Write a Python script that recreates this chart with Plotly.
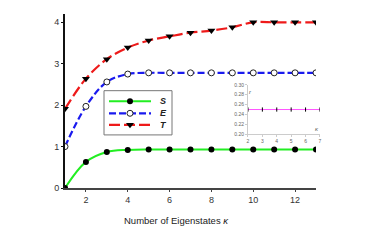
import plotly.graph_objects as go

k = list(range(1, 14))
S_vals = [0.0, 0.63, 0.87, 0.92, 0.93, 0.93, 0.93, 0.93, 0.93, 0.93, 0.93, 0.93, 0.93]
E_vals = [1.0, 1.97, 2.56, 2.75, 2.78, 2.78, 2.78, 2.78, 2.78, 2.78, 2.78, 2.78, 2.78]
T_vals = [1.91, 2.64, 3.11, 3.39, 3.56, 3.66, 3.75, 3.80, 3.88, 4.0, 4.0, 4.0, 4.0]
inset_k = [2, 3, 4, 5, 6, 7]
inset_r = [0.25, 0.25, 0.25, 0.25, 0.25, 0.25]
series_names = ["S", "E", "T"]
x_title = "Number of Eigenstates <i>κ</i>"

font = "Liberation Sans, Arial, sans-serif"
W, H = 372, 250
ML, MR, MT, MB = 65, 50, 11, 62

styles = {
    "S": dict(line=dict(color="#22ee22", width=2),
              marker=dict(symbol="circle", size=6, color="black")),
    "E": dict(line=dict(color="#1a1aee", width=2.2, dash="7px,3px"),
              marker=dict(symbol="circle", size=6, color="white", line=dict(color="#222", width=1))),
    "T": dict(line=dict(color="#ee1a1a", width=2.2, dash="11px,4px"),
              marker=dict(symbol="triangle-down", size=7, color="black")),
}
data = {"S": S_vals, "E": E_vals, "T": T_vals}

fig = go.Figure()
for n in series_names:
    st = styles[n]
    fig.add_trace(go.Scatter(x=k, y=data[n], name=n, mode="lines+markers", showlegend=False,
                             line=dict(shape="spline", **st["line"]), marker=st["marker"]))
fig.add_trace(go.Scatter(x=inset_k, y=inset_r, xaxis="x2", yaxis="y2", mode="lines+markers",
                         showlegend=False,
                         line=dict(color="#ff55ff", width=1),
                         marker=dict(symbol="line-ns", size=3, color="black",
                                     line=dict(color="black", width=1))))

# Hand-drawn legend box on a pixel-unit overlay axis
fig.add_trace(go.Scatter(x=[104, 172, 172, 104, 104], y=[89, 89, 134, 134, 89],
                         xaxis="x3", yaxis="y3", mode="lines", fill="toself", fillcolor="white",
                         line=dict(color="#777", width=1), showlegend=False, hoverinfo="skip"))
annotations = []
rows = [99.7, 112, 123.7]
for n, ry in zip(series_names, rows):
    st = styles[n]
    fig.add_trace(go.Scatter(x=[109, 151], y=[ry, ry], xaxis="x3", yaxis="y3", mode="lines",
                             showlegend=False, hoverinfo="skip", line=st["line"]))
    fig.add_trace(go.Scatter(x=[130], y=[ry], xaxis="x3", yaxis="y3", mode="markers",
                             showlegend=False, hoverinfo="skip", marker=st["marker"]))
    annotations.append(dict(text=f"<b><i>{n}</i></b>", x=163, y=ry, xref="x3", yref="y3",
                            showarrow=False, font=dict(size=9, color="#222")))

annotations += [
    dict(text="<i>r</i>", x=2.2, y=0.285, xref="x2", yref="y2", showarrow=False,
         font=dict(size=6, color="#555")),
    dict(text="<i>κ</i>", x=6.8, y=0.21, xref="x2", yref="y2", showarrow=False,
         font=dict(size=6, color="#555")),
    dict(text=x_title, x=(176.5 - ML) / (W - ML - MR), y=(H - MB - 221) / (H - MT - MB),
         xref="paper", yref="paper", xanchor="center", yanchor="middle", showarrow=False,
         font=dict(size=9.5, color="#222")),
]

fig.update_layout(
    width=W, height=H,
    margin=dict(l=ML, r=MR, t=MT, b=MB),
    paper_bgcolor="white", plot_bgcolor="rgba(0,0,0,0)",
    font=dict(family=font, size=9, color="#333"),
    showlegend=False,
    xaxis=dict(domain=[0, 251 / 257], range=[1, 13], tickvals=[2, 4, 6, 8, 10, 12],
               showgrid=False, zeroline=False, showline=True, linecolor="#444", linewidth=2,
               ticks="outside", ticklen=2, tickcolor="#444"),
    yaxis=dict(domain=[0, 1], range=[0, 4.2], tickvals=[0, 1, 2, 3, 4],
               showgrid=False, zeroline=False, showline=True, linecolor="#111", linewidth=2,
               ticks="outside", ticklen=2, tickcolor="#111"),
    xaxis2=dict(domain=[0.712, 0.992], range=[2, 7], anchor="y2", tickvals=[2, 3, 4, 5, 6, 7],
                showgrid=False, zeroline=False, showline=True, linecolor="#ccc", linewidth=1,
                ticks="outside", ticklen=2, tickcolor="#ccc",
                tickfont=dict(size=5, color="#666")),
    yaxis2=dict(domain=[0.309, 0.593], range=[0.2, 0.3], anchor="x2",
                tickvals=[0.20, 0.22, 0.24, 0.26, 0.28, 0.30], tickformat=".2f",
                showgrid=False, zeroline=False, showline=True, linecolor="#ccc", linewidth=1,
                ticks="outside", ticklen=2, tickcolor="#ccc",
                tickfont=dict(size=5, color="#666")),
    xaxis3=dict(domain=[0, 1], range=[ML, W - MR], anchor="y3", visible=False, fixedrange=True),
    yaxis3=dict(domain=[0, 1], range=[H - MB, MT], anchor="x3", visible=False, fixedrange=True),
    annotations=annotations,
)
fig.write_html("out.html", config={"displayModeBar": False},
               post_script="document.body.style.margin='0';")
